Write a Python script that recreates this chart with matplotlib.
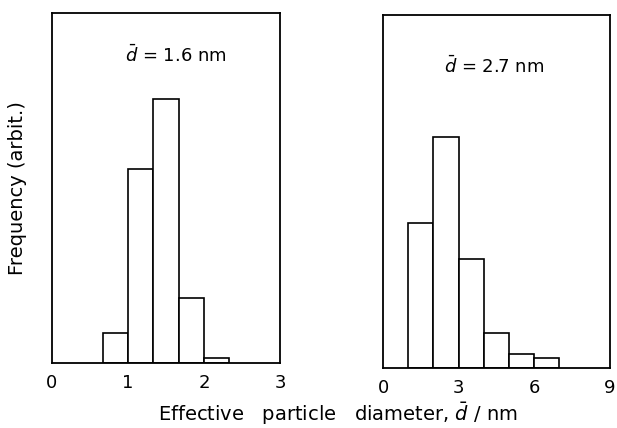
import numpy as np
import matplotlib
matplotlib.use('Agg')
import matplotlib.pyplot as plt

# bin edges (nm) and relative frequencies
left_bins = [0.67, 1.0, 1.33, 1.67, 2.0, 2.33]
left_freq = [0.086, 0.554, 0.754, 0.186, 0.014]
left_ticks = [0, 1, 2, 3]
left_label = r'$\bar{d}$ = 1.6 nm'

right_bins = [1, 2, 3, 4, 5, 6, 7]
right_freq = [0.41, 0.655, 0.31, 0.10, 0.04, 0.028]
right_ticks = [0, 3, 6, 9]
right_label = r'$\bar{d}$ = 2.7 nm'

plt.rcParams['font.family'] = 'DejaVu Sans'
plt.rcParams['mathtext.fontset'] = 'dejavusans'

fig = plt.figure(figsize=(6.17, 4.28), dpi=100)
ax1 = fig.add_axes([0.084, 0.152, 0.370, 0.818])
ax2 = fig.add_axes([0.621, 0.140, 0.367, 0.825])


def draw_hist(ax, bins, freq, ticks, label, xtext, ytext):
    edges = np.array(bins)
    ax.bar(edges[:-1], freq, width=np.diff(edges), align='edge',
           facecolor='white', edgecolor='black', linewidth=1.2)
    ax.set_xlim(ticks[0], ticks[-1])
    ax.set_ylim(0, 1)
    ax.set_xticks(ticks)
    ax.set_yticks([])
    ax.tick_params(axis='x', length=0, pad=8, labelsize=13)
    for s in ax.spines.values():
        s.set_linewidth(1.3)
    ax.text(xtext, ytext, label, transform=ax.transAxes, ha='center',
            va='center', fontsize=13)


draw_hist(ax1, left_bins, left_freq, left_ticks, left_label, 0.545, 0.88)
draw_hist(ax2, right_bins, right_freq, right_ticks, right_label, 0.49, 0.855)

ax1.set_ylabel('Frequency (arbit.)', fontsize=14, labelpad=18)
fig.text(0.548, 0.033, r'Effective   particle   diameter, $\bar{d}$ / nm',
         ha='center', va='center', fontsize=14)

fig.savefig('out.png', dpi=100)
